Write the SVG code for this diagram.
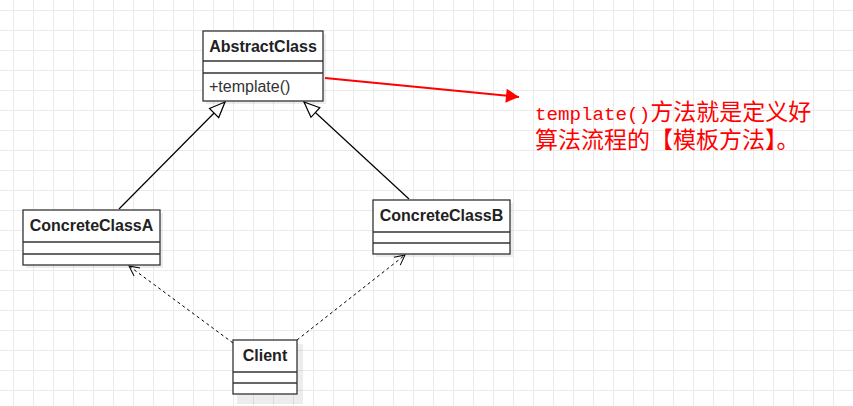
<svg xmlns="http://www.w3.org/2000/svg" width="853" height="406" viewBox="0 0 853 406">
<defs>
<pattern id="grid" x="13" y="10" width="20" height="20" patternUnits="userSpaceOnUse">
<path d="M0.5 0 V20 M0 0.5 H20" stroke="#ebebeb" stroke-width="1" fill="none"/>
</pattern>
<marker id="tri" markerUnits="userSpaceOnUse" markerWidth="18" markerHeight="16" refX="16" refY="7" orient="auto" overflow="visible">
<path d="M0.5,0.5 L16,7 L0.5,13.5 Z" fill="#fff" stroke="#000" stroke-width="1.2"/>
</marker>
<marker id="open" markerUnits="userSpaceOnUse" markerWidth="12" markerHeight="12" refX="10" refY="5" orient="auto" overflow="visible">
<path d="M0,0 L10,5 L0,10" fill="none" stroke="#000" stroke-width="1"/>
</marker>
<marker id="red" markerUnits="userSpaceOnUse" markerWidth="14" markerHeight="14" refX="13" refY="7" orient="auto" overflow="visible">
<path d="M0,0 L13,7 L0,14 Z" fill="#ff0000"/>
</marker>
</defs>
<style>
.box{fill:#fff;stroke:#333;stroke-width:1.3}
.shadow{fill:#000;opacity:0.07}
.sep{stroke:#333;stroke-width:1.3}
.title{font-family:"Liberation Sans",Arial,sans-serif;font-weight:bold;font-size:16px;fill:#222;text-anchor:middle}
.member{font-family:"Liberation Sans",Arial,sans-serif;font-size:16px;fill:#333}
.inh{stroke:#000;stroke-width:1.2;fill:none}
.dep{stroke:#000;stroke-width:1;stroke-dasharray:3,3;fill:none}
.note{fill:#ff0000;font-family:"Liberation Sans","Noto Sans CJK SC",sans-serif;font-size:23px}
.mono{font-family:"Liberation Mono","Courier New",monospace;font-size:19.2px}
</style>
<rect width="853" height="406" fill="#fff"/>
<rect width="853" height="406" fill="url(#grid)"/>

<g id="connectors">
<line class="inh" x1="119" y1="209" x2="225" y2="102" marker-end="url(#tri)"/>
<line class="inh" x1="409" y1="199" x2="304" y2="102" marker-end="url(#tri)"/>
<line class="dep" x1="233" y1="343" x2="129" y2="266" marker-end="url(#open)"/>
<line class="dep" x1="297" y1="340" x2="405" y2="255" marker-end="url(#open)"/>
<line x1="325" y1="78" x2="519" y2="97" stroke="#ff0000" stroke-width="2" marker-end="url(#red)"/>
</g>

<g id="AbstractClass">
<rect class="shadow" x="206" y="34" width="120" height="70"/>
<rect class="box" x="203" y="31" width="120" height="70"/>
<line class="sep" x1="203" y1="61" x2="323" y2="61"/>
<line class="sep" x1="203" y1="73" x2="323" y2="73"/>
<text class="title" x="263" y="51.5">AbstractClass</text>
<text class="member" x="209" y="92">+template()</text>
</g>

<g id="ConcreteClassA">
<rect class="shadow" x="26" y="213" width="137" height="55"/>
<rect class="box" x="23" y="210" width="137" height="55"/>
<line class="sep" x1="23" y1="242" x2="160" y2="242"/>
<line class="sep" x1="23" y1="254" x2="160" y2="254"/>
<text class="title" x="91.5" y="231">ConcreteClassA</text>
</g>

<g id="ConcreteClassB">
<rect class="shadow" x="376" y="203" width="137" height="54"/>
<rect class="box" x="373" y="200" width="137" height="54"/>
<line class="sep" x1="373" y1="232" x2="510" y2="232"/>
<line class="sep" x1="373" y1="243" x2="510" y2="243"/>
<text class="title" x="441.5" y="221">ConcreteClassB</text>
</g>

<g id="Client">
<rect class="shadow" x="237" y="344" width="66" height="60"/>
<rect class="box" x="233" y="340" width="64" height="54"/>
<line class="sep" x1="233" y1="372" x2="297" y2="372"/>
<line class="sep" x1="233" y1="383" x2="297" y2="383"/>
<text class="title" x="265" y="361">Client</text>
</g>

<g id="note">
<text class="note" x="535" y="120"><tspan class="mono">template()</tspan><tspan>方法就是定义好</tspan><tspan x="535" y="148">算法流程的【模板方法】。</tspan></text>
</g>
</svg>
